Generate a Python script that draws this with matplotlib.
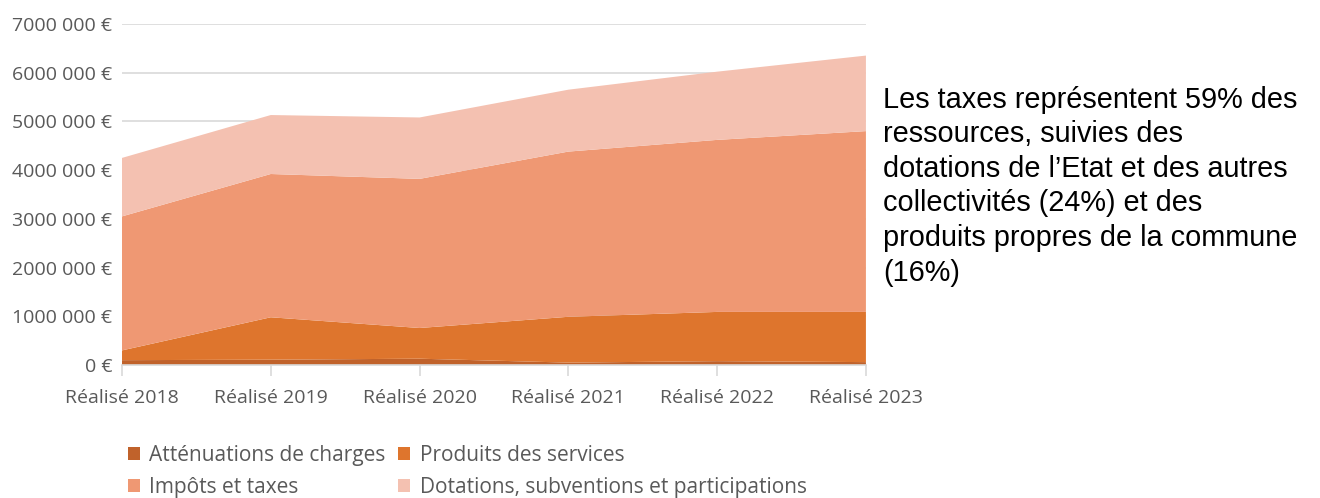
import matplotlib
matplotlib.use("Agg")
import matplotlib.pyplot as plt
from matplotlib.ticker import FuncFormatter, MultipleLocator
from matplotlib.patches import Patch

# values in millions of euros
years = ["Réalisé 2018", "Réalisé 2019", "Réalisé 2020", "Réalisé 2021", "Réalisé 2022", "Réalisé 2023"]
attenuations = [0.10, 0.11, 0.13, 0.05, 0.08, 0.06]
produits = [0.20, 0.87, 0.63, 0.94, 1.01, 1.03]
impots = [2.75, 2.94, 3.06, 3.39, 3.53, 3.71]
dotations = [1.20, 1.21, 1.26, 1.27, 1.40, 1.55]

labels = ["Atténuations de charges", "Produits des services",
          "Impôts et taxes", "Dotations, subventions et participations"]
colors = ["#C0622B", "#DE752D", "#EF9873", "#F4C1B1"]

note = ("Les taxes représentent 59% des\nressources, suivies des\n"
        "dotations de l\u2019Etat et des autres\ncollectivités (24%) et des\n"
        "produits propres de la commune\n(16%)")

GREY = "#595959"
plt.rcParams["font.family"] = ["Open Sans", "DejaVu Sans"]

fig = plt.figure(figsize=(13.2, 4.98), dpi=100)
ax = fig.add_axes([0.0924, 0.267, 0.5636, 0.685])

x = list(range(len(years)))
ax.stackplot(x, [v * 1e6 for v in attenuations], [v * 1e6 for v in produits],
             [v * 1e6 for v in impots], [v * 1e6 for v in dotations],
             colors=colors, linewidth=0, zorder=2)

ax.set_xlim(0, len(years) - 1)
ax.set_ylim(0, 7e6)
ax.yaxis.set_major_locator(MultipleLocator(1e6))
ax.yaxis.set_major_formatter(FuncFormatter(
    lambda v, p: "0 €" if v == 0 else f"{int(round(v / 1e6))}000 000 €"))
ax.grid(axis="y", color="#D9D9D9", linewidth=1.2, zorder=0)
ax.set_xticks(x)
ax.set_xticklabels(years)
for s in ["top", "right", "left"]:
    ax.spines[s].set_visible(False)
ax.spines["bottom"].set_color("#D9D9D9")
ax.spines["bottom"].set_linewidth(1.2)
ax.spines["bottom"].set_zorder(3)
ax.tick_params(axis="y", length=0, labelsize=14, labelcolor=GREY, pad=7)
ax.tick_params(axis="x", length=8, width=1.2, color="#D9D9D9",
               labelsize=14, labelcolor=GREY, pad=9)

# legend fills row by row in the reference: reorder for column-major filling
order = [0, 2, 1, 3]
handles = [Patch(facecolor=colors[i], edgecolor="none") for i in order]
fig.legend(handles, [labels[i] for i in order], loc="upper left",
           bbox_to_anchor=(0.089, 0.128),
           ncol=2, frameon=False, fontsize=15, labelcolor=GREY,
           handlelength=0.58, handleheight=0.58, handletextpad=0.45,
           columnspacing=0.6, labelspacing=0.55, borderpad=0)

fig.text(0.669, 0.828, note, fontsize=20.8, family="Liberation Sans",
         color="black", va="top", ha="left", linespacing=1.3)

fig.savefig("out.png", dpi=100)
